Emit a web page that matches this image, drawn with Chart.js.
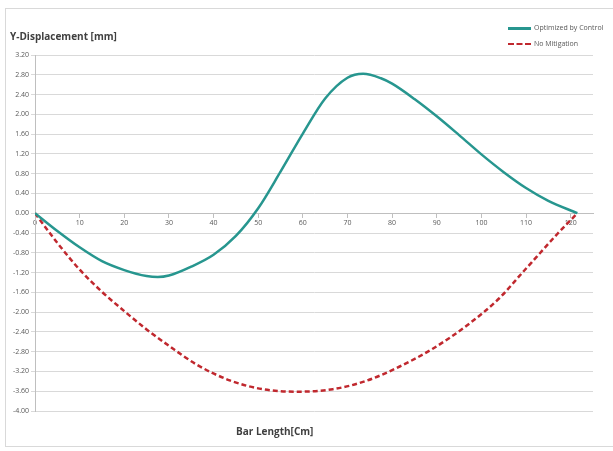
<!DOCTYPE html>
<html>
<head>
<meta charset="utf-8">
<script src="https://cdn.jsdelivr.net/npm/chart.js@4/dist/chart.umd.min.js"></script>
<style>
    body { margin: 0; background: #fff; }
    #wrap { position: relative; width: 613px; height: 451px; overflow: hidden; font-family: "Open Sans", sans-serif; }
    #frame { position: absolute; left: 5px; top: 8px; width: 612px; height: 439px; border: 1px solid #d9d9d9; box-sizing: border-box; }
    canvas { position: absolute; left: 0; top: 0; }
    .ytitle { position: absolute; left: 10px; top: 29px; font-size: 10px; font-weight: bold; color: #404040; }
    .xtitle { position: absolute; left: 236px; top: 424px; font-size: 10px; font-weight: bold; color: #404040; }
    .legend { position: absolute; left: 508px; top: 21px; font-size: 7px; color: #595959; }
    .legend .item { height: 16px; line-height: 14px; white-space: nowrap; }
    .legend .swatch { display: inline-block; width: 23px; vertical-align: middle; margin-right: 3px; }
    .legend .teal { border-top: 3px solid #27968f; }
    .legend .red { border-top: 2.5px dashed #c0282e; }
</style>
</head>
<body>
<div id="wrap">
    <div id="frame"></div>
    <canvas id="desplazamientoChart" width="613" height="451"></canvas>
    <div class="ytitle">Y-Displacement [mm]</div>
    <div class="xtitle">Bar Length[Cm]</div>
    <div class="legend">
        <div class="item"><span class="swatch teal"></span>Optimized by Control</div>
        <div class="item"><span class="swatch red"></span>No Mitigation</div>
    </div>
</div>
<script>
// Datos
const xOptimized = [0, 5, 10, 15, 20, 25, 27.5, 30, 35, 40, 45, 50, 55, 60, 65, 70, 73.5, 77.5, 80, 85, 90, 95, 100, 105, 110, 115, 121.5];
const yOptimized = [0, -0.36, -0.69, -0.97, -1.15, -1.27, -1.29, -1.26, -1.08, -0.84, -0.46, 0.10, 0.84, 1.61, 2.32, 2.74, 2.82, 2.73, 2.62, 2.31, 1.96, 1.58, 1.19, 0.83, 0.51, 0.25, 0];

const xNoMitigation = [0, 5, 10, 15, 20, 25, 30, 36.2, 43.6, 51.1, 58.5, 66.7, 74.2, 81.7, 89.1, 96.6, 104, 109.2, 113, 117, 121.5];
const yNoMitigation = [0, -0.60, -1.14, -1.59, -1.98, -2.35, -2.68, -3.06, -3.38, -3.56, -3.61, -3.56, -3.39, -3.10, -2.74, -2.28, -1.72, -1.20, -0.82, -0.42, 0];

const xTickValues = [0, 10, 20, 30, 40, 50, 60, 70, 80, 90, 100, 110, 120];
const yTickValues = [3.2, 2.8, 2.4, 2.0, 1.6, 1.2, 0.8, 0.4, 0, -0.4, -0.8, -1.2, -1.6, -2.0, -2.4, -2.8, -3.2, -3.6, -4.0];

function toPoints(xs, ys) {
    return xs.map((x, i) => ({ x: x, y: ys[i] }));
}

const ctx = document.getElementById('desplazamientoChart');

const desplazamientoChart = new Chart(ctx, {
    type: 'line',
    data: {
        datasets: [
            {
                label: 'Optimized by Control',
                data: toPoints(xOptimized, yOptimized),
                borderColor: '#27968f',
                borderWidth: 2.5,
                pointRadius: 0,
                cubicInterpolationMode: 'monotone',
                fill: false
            },
            {
                label: 'No Mitigation',
                data: toPoints(xNoMitigation, yNoMitigation),
                borderColor: '#c0282e',
                borderWidth: 2.5,
                borderDash: [5, 3],
                pointRadius: 0,
                cubicInterpolationMode: 'monotone',
                fill: false
            }
        ]
    },
    options: {
        responsive: false,
        animation: false,
        devicePixelRatio: 1,
        layout: {
            padding: { left: 5, right: 20, top: 55, bottom: 40 }
        },
        plugins: {
            legend: { display: false },
            tooltip: { enabled: false }
        },
        scales: {
            x: {
                type: 'linear',
                min: 0,
                max: 125,
                position: { y: 0 },
                afterBuildTicks: function (scale) {
                    scale.ticks = xTickValues.map(v => ({ value: v }));
                },
                afterFit: function (scale) {
                    scale.height = 0;
                },
                grid: {
                    drawOnChartArea: false,
                    drawTicks: true,
                    tickLength: 4,
                    color: '#bfbfbf'
                },
                border: { color: '#bfbfbf', width: 1 },
                ticks: {
                    autoSkip: false,
                    maxRotation: 0,
                    padding: 2,
                    color: '#595959',
                    font: { family: 'Open Sans', size: 7 }
                }
            },
            y: {
                min: -4,
                max: 3.2,
                afterBuildTicks: function (scale) {
                    scale.ticks = yTickValues.map(v => ({ value: v }));
                },
                afterFit: function (scale) {
                    scale.width = 30;
                },
                grid: {
                    color: '#d9d9d9',
                    lineWidth: 1,
                    drawTicks: true,
                    tickLength: 4
                },
                border: { color: '#bfbfbf', width: 1 },
                ticks: {
                    padding: 2,
                    color: '#595959',
                    font: { family: 'Open Sans', size: 7 },
                    callback: function (value) {
                        const v = Math.abs(value) < 1e-9 ? 0 : value;
                        return v.toFixed(2);
                    }
                }
            }
        }
    }
});
</script>
</body>
</html>
